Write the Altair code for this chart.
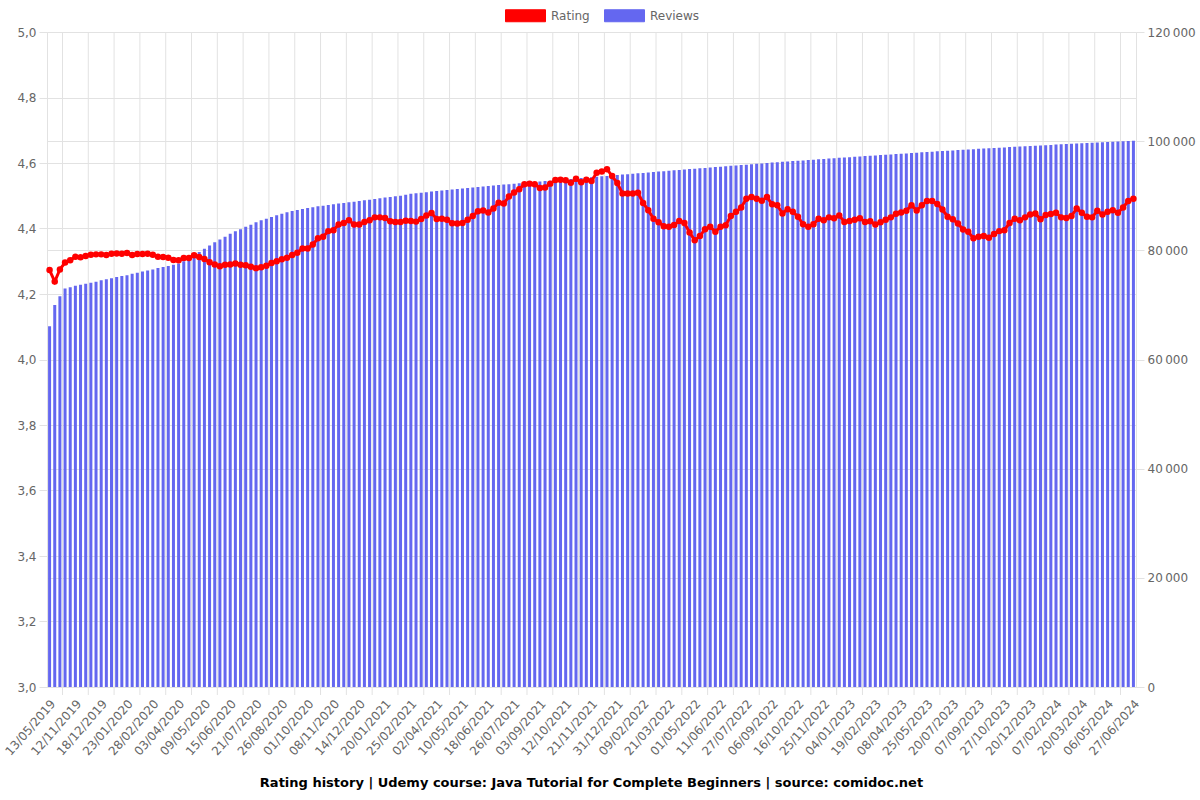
import json
import altair as alt
import pandas as pd

# ---------------- data ----------------
labels = ["13/05/2019", "12/11/2019", "18/12/2019", "23/01/2020", "28/02/2020", "03/04/2020",
          "09/05/2020", "15/06/2020", "21/07/2020", "26/08/2020", "01/10/2020", "08/11/2020",
          "14/12/2020", "20/01/2021", "25/02/2021", "02/04/2021", "10/05/2021", "18/06/2021",
          "26/07/2021", "03/09/2021", "12/10/2021", "21/11/2021", "31/12/2021", "09/02/2022",
          "21/03/2022", "01/05/2022", "11/06/2022", "27/07/2022", "06/09/2022", "16/10/2022",
          "25/11/2022", "04/01/2023", "19/02/2023", "08/04/2023", "25/05/2023", "20/07/2023",
          "07/09/2023", "27/10/2023", "20/12/2023", "07/02/2024", "20/03/2024", "06/05/2024",
          "27/06/2024"]

rating = [
    4.273, 4.238, 4.275, 4.296, 4.303, 4.314, 4.312, 4.316, 4.320, 4.321, 4.321, 4.319, 4.323, 4.324,
    4.323, 4.325, 4.319, 4.322, 4.322, 4.323, 4.320, 4.314, 4.313, 4.311, 4.304, 4.303, 4.310, 4.310,
    4.318, 4.313, 4.307, 4.297, 4.290, 4.285, 4.289,
    4.290, 4.293, 4.289, 4.288, 4.283, 4.279, 4.282, 4.286, 4.295, 4.300, 4.306, 4.311, 4.319, 4.326,
    4.339, 4.339, 4.351, 4.370, 4.375, 4.392, 4.395, 4.412, 4.417, 4.425, 4.412, 4.412, 4.420, 4.425,
    4.434, 4.434, 4.432, 4.422, 4.420, 4.420, 4.424,
    4.423, 4.421, 4.429, 4.440, 4.447, 4.429, 4.430, 4.427, 4.416, 4.415, 4.417, 4.427, 4.438, 4.453,
    4.455, 4.449, 4.461, 4.479, 4.476, 4.498, 4.510, 4.520, 4.535, 4.537, 4.535, 4.524, 4.525, 4.537,
    4.548, 4.549, 4.547, 4.540, 4.552, 4.541, 4.549, 4.545,
    4.570, 4.574, 4.581, 4.560, 4.539, 4.507, 4.507, 4.507, 4.509, 4.478, 4.456, 4.430, 4.419, 4.407,
    4.405, 4.411, 4.423, 4.417, 4.388, 4.364, 4.377, 4.398, 4.405, 4.390, 4.405, 4.410, 4.438, 4.451,
    4.464, 4.491, 4.496, 4.491, 4.485, 4.496, 4.474,
    4.471, 4.446, 4.459, 4.451, 4.436, 4.413, 4.405, 4.413, 4.430, 4.425, 4.434, 4.431, 4.440, 4.420,
    4.423, 4.427, 4.431, 4.420, 4.422, 4.412, 4.419, 4.427, 4.434, 4.445, 4.449, 4.454, 4.471, 4.455,
    4.471, 4.484, 4.484, 4.475, 4.458, 4.436, 4.428,
    4.415, 4.397, 4.390, 4.370, 4.375, 4.377, 4.372, 4.383, 4.392, 4.395, 4.417, 4.430, 4.425, 4.434,
    4.443, 4.446, 4.428, 4.441, 4.444, 4.448, 4.434, 4.432, 4.438, 4.461, 4.448, 4.436, 4.434, 4.454,
    4.443, 4.451, 4.456, 4.448, 4.464, 4.484, 4.491,
]

reviews = [
    66100, 70000, 71600, 73000, 73250, 73500, 73700, 73900, 74050, 74250, 74500, 74700, 74900, 75100,
    75300, 75450, 75700, 75900, 76100, 76300, 76500, 76750, 76950, 77150, 77350, 77600, 78000, 78500,
    79100, 79700, 80300, 80900, 81500, 82000, 82500,
    83050, 83480, 83840, 84330, 84700, 85130, 85500, 85800, 86110, 86410, 86720, 86960, 87210, 87390,
    87580, 87760, 87880, 88070, 88190, 88310, 88430, 88560, 88680, 88800, 88920, 89050, 89170, 89290,
    89410, 89530, 89660, 89780, 89900, 90020, 90200,
    90350, 90450, 90560, 90660, 90770, 90860, 90960, 91060, 91150, 91250, 91340, 91430, 91520, 91610,
    91700, 91780, 91870, 91950, 92040, 92120, 92200, 92290, 92370, 92450, 92530, 92610, 92690, 92770,
    92850, 92930, 93010, 93090, 93170, 93250, 93330, 93410,
    93480, 93560, 93640, 93720, 93800, 93880, 93960, 94040, 94110, 94190, 94270, 94340, 94420, 94500,
    94570, 94650, 94720, 94800, 94880, 94950, 95030, 95100, 95180, 95250, 95330, 95400, 95480, 95550,
    95630, 95700, 95780, 95850, 95930, 96000, 96080,
    96150, 96220, 96280, 96350, 96420, 96480, 96550, 96610, 96680, 96740, 96810, 96870, 96940, 97000,
    97070, 97130, 97200, 97260, 97320, 97390, 97450, 97510, 97580, 97640, 97700, 97760, 97830, 97890,
    97950, 98010, 98070, 98130, 98190, 98250, 98310,
    98370, 98430, 98480, 98540, 98590, 98650, 98700, 98760, 98810, 98860, 98920, 98970, 99020, 99070,
    99120, 99170, 99220, 99270, 99320, 99370, 99420, 99470, 99520, 99570, 99620, 99660, 99710, 99760,
    99800, 99850, 99890, 99940, 99980, 100030, 100070,
]

rating_ticks = [3.0, 3.2, 3.4, 3.6, 3.8, 4.0, 4.2, 4.4, 4.6, 4.8, 5.0]
review_ticks = [0, 20000, 40000, 60000, 80000, 100000, 120000]
series_names = ["Rating", "Reviews"]
title_text = "Rating history | Udemy course: Java Tutorial for Complete Beginners | source: comidoc.net"

# ---------------- build ----------------
n = len(rating)
step = 5
df = pd.DataFrame({"idx": list(range(n)), "rating": rating, "reviews": reviews})
tick_vals = [i * step for i in range(len(labels))]
grid_df = pd.DataFrame({"g": [v + step / 2 for v in tick_vals[:-1]]})

W, H = 1089, 655
GRID = "#e2e2e2"
FONT = "DejaVu Sans"
RED = "#ff0000"
BLUE = "#6467f0"
LABEL = "#666666"

xscale = alt.Scale(domain=[-0.5, n - 0.5], nice=False, zero=False, padding=0)
color_scale = alt.Scale(domain=series_names, range=[RED, BLUE])

legend = alt.Legend(
    orient="none", legendX=458, legendY=-37, direction="horizontal", title=None,
    symbolType="M-1,-0.3H1V0.3H-1Z", symbolSize=1600, labelFontSize=12,
    labelColor=LABEL, labelFont=FONT, columnPadding=12, labelOffset=5, padding=0,
    symbolOpacity=1, symbolStrokeWidth=1,
)

x_axis = alt.Axis(
    values=tick_vals, labelExpr=json.dumps(labels) + "[round(datum.value/5)]",
    labelAngle=-49, labelAlign="right", labelBaseline="middle", grid=False, ticks=False,
    domain=True, domainColor=GRID, labelPadding=14, labelOffset=3, labelFontSize=12,
    labelColor=LABEL, labelFont=FONT, title=None, labelOverlap=False, labelFlush=False,
    labelBound=False, labelSeparation=0,
)

grid = alt.Chart(grid_df).mark_rule(color=GRID, strokeWidth=1).encode(
    x=alt.X("g:Q", scale=xscale, axis=x_axis),
    y=alt.value(0),
    y2=alt.value(H + 8),
)

bars = alt.Chart(df).transform_calculate(series="'Reviews'").mark_bar(size=3).encode(
    x=alt.X("idx:Q", scale=xscale, axis=x_axis),
    y=alt.Y("reviews:Q", scale=alt.Scale(domain=[0, 120000], nice=False),
            axis=alt.Axis(orient="right", values=review_ticks,
                          labelExpr="replace(format(datum.value, ','), ',', '\u202f')",
                          grid=True, gridColor=GRID, tickSize=8, tickColor=GRID,
                          domainColor=GRID, labelPadding=3, labelFontSize=12,
                          labelColor=LABEL, labelFont=FONT, title=None)),
    color=alt.Color("series:N", scale=color_scale, legend=legend),
)

yr = alt.Y("rating:Q", scale=alt.Scale(domain=[3, 5], nice=False, zero=False),
           axis=alt.Axis(orient="left", values=rating_ticks,
                         labelExpr="replace(format(datum.value, '.1f'), '.', ',')",
                         grid=True, gridColor=GRID, tickSize=8, tickColor=GRID,
                         domainColor=GRID, labelPadding=3, labelFontSize=12,
                         labelColor=LABEL, labelFont=FONT, title=None))

rating_base = alt.Chart(df).transform_calculate(series="'Rating'")
line = rating_base.mark_line(strokeWidth=3).encode(
    x=alt.X("idx:Q", scale=xscale, axis=x_axis),
    y=yr,
    color=alt.Color("series:N", scale=color_scale, legend=legend),
)
pts = rating_base.mark_circle(size=42, opacity=1).encode(
    x=alt.X("idx:Q", scale=xscale, axis=x_axis),
    y=yr,
    color=alt.Color("series:N", scale=color_scale, legend=legend),
)
rating_layer = alt.layer(line, pts)

chart = alt.layer(grid, bars, rating_layer).resolve_scale(y="independent").properties(
    width=W, height=H,
    autosize="none",
    padding={"left": 47, "top": 32, "right": 64, "bottom": 113},
    background="white",
    title=alt.TitleParams(title_text, orient="bottom", fontSize=13, fontWeight="bold",
                          color="#000000", font=FONT, offset=20, anchor="middle"),
).configure_view(stroke=None)

chart.save("out.html", embed_options={"renderer": "svg", "actions": False})
